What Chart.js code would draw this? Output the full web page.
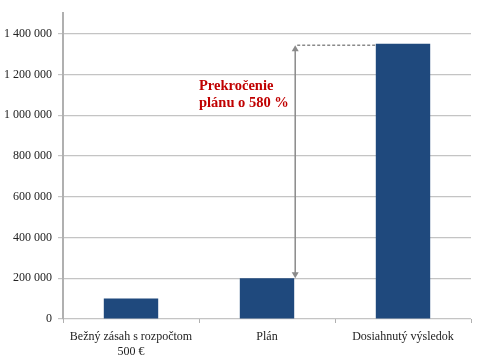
<!DOCTYPE html>
<html><head><meta charset="utf-8">
<script src="https://cdn.jsdelivr.net/npm/chart.js@4/dist/chart.umd.min.js"></script>
<style>html,body{margin:0;padding:0;background:#fff}#wrap{width:480px;height:361px}</style>
</head><body><div id="wrap"><canvas id="c" width="480" height="361"></canvas></div>
<script>
const categories = [["Bežný zásah s rozpočtom", "500 €"], "Plán", "Dosiahnutý výsledok"];
const values = [100000, 200000, 1350000];
const yTicks = [0, 200000, 400000, 600000, 800000, 1000000, 1200000, 1400000];
const annotationLines = ["Prekročenie", "plánu o 580 %"];

const fmt = v => String(v).replace(/\B(?=(\d{3})+(?!\d))/g, " ");
const SERIF = "'Liberation Serif', 'Times New Roman', 'DejaVu Serif', serif";

Chart.defaults.font.family = SERIF;
Chart.defaults.font.size = 12;

const arrowPlugin = {
  id: 'arrowNote',
  afterDatasetsDraw(chart) {
    const ctx = chart.ctx, x = chart.scales.x, y = chart.scales.y;
    const meta = chart.getDatasetMeta(0);
    const planBar = meta.data[1], resBar = meta.data[2];
    const ax = planBar.x + planBar.width / 2 + 1;
    const yTop = y.getPixelForValue(values[2]) + 1.5;
    const yBot = y.getPixelForValue(values[1]);
    ctx.save();
    ctx.strokeStyle = '#8a8a8a'; ctx.fillStyle = '#8a8a8a'; ctx.lineWidth = 1.5;
    ctx.beginPath(); ctx.moveTo(ax, yTop + 4); ctx.lineTo(ax, yBot - 4); ctx.stroke();
    ctx.beginPath(); ctx.moveTo(ax, yTop); ctx.lineTo(ax - 3.5, yTop + 6); ctx.lineTo(ax + 3.5, yTop + 6); ctx.closePath(); ctx.fill();
    ctx.beginPath(); ctx.moveTo(ax, yBot); ctx.lineTo(ax - 3.5, yBot - 6); ctx.lineTo(ax + 3.5, yBot - 6); ctx.closePath(); ctx.fill();
    ctx.setLineDash([3, 2]); ctx.lineWidth = 1.5;
    ctx.beginPath(); ctx.moveTo(ax + 2, yTop); ctx.lineTo(resBar.x - resBar.width / 2, yTop); ctx.stroke();
    ctx.setLineDash([]);
    ctx.fillStyle = '#c00000';
    ctx.font = 'bold 14.5px ' + SERIF;
    ctx.textBaseline = 'middle'; ctx.textAlign = 'left';
    const tx = (x.getPixelForValue(0) + x.getPixelForValue(1)) / 2;
    ctx.fillText(annotationLines[0], tx, y.getPixelForValue(1140000));
    ctx.fillText(annotationLines[1], tx, y.getPixelForValue(1058000));
    ctx.restore();
  }
};

new Chart(document.getElementById('c'), {
  type: 'bar',
  data: { labels: categories, datasets: [{ data: values, backgroundColor: '#1f497d', barPercentage: 0.4, categoryPercentage: 1.0 }] },
  options: {
    responsive: false, animation: false,
    layout: { padding: { left: 0, right: 9, top: -7, bottom: 0 } },
    plugins: { legend: { display: false }, tooltip: { enabled: false } },
    scales: {
      x: {
        grid: { drawOnChartArea: false, drawTicks: true, tickLength: 4, color: '#b0b0b0', offset: true },
        border: { display: false },
        ticks: { color: '#222', font: { family: SERIF, size: 12 }, padding: 7, maxRotation: 0, autoSkip: false },
        afterFit(s) { s.height = 42; }
      },
      y: {
        min: 0, max: 1500000,
        afterBuildTicks(s) { s.ticks = yTicks.map(v => ({ value: v })); },
        grid: { color: '#c4c4c4', lineWidth: 1.2, tickLength: 5 },
        border: { color: '#b0b0b0', width: 2 },
        ticks: { color: '#222', font: { family: SERIF, size: 12 }, padding: 6, callback: v => fmt(v) },
        afterFit(s) { s.width = 63; }
      }
    }
  },
  plugins: [arrowPlugin]
});
</script></body></html>
